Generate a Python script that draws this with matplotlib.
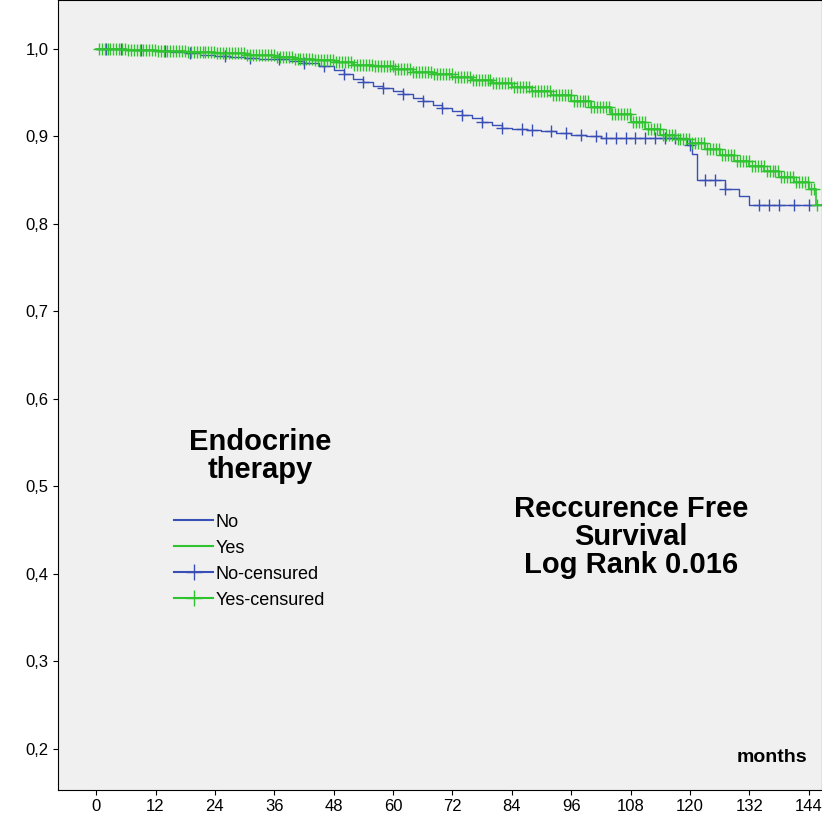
import numpy as np
import matplotlib.pyplot as plt
from matplotlib.lines import Line2D

plt.rcParams['font.family'] = ['Liberation Sans', 'DejaVu Sans']

# Kaplan-Meier steps (months, survival)
no_t = [0, 6, 12, 15, 18, 21, 24, 27, 30, 33, 36, 39, 42, 45, 48, 50, 52, 54, 56, 58, 60, 62, 64, 66, 68, 70, 72,
        74, 76, 78, 80, 82, 84, 87, 90, 93, 96, 99, 102, 118, 119.5, 120.5, 121.5, 127, 130, 132, 147]
no_s = [1.0, 0.999, 0.998, 0.996, 0.995, 0.993, 0.992, 0.991, 0.990, 0.989, 0.988, 0.986, 0.984, 0.980, 0.976,
        0.971, 0.966, 0.962, 0.958, 0.955, 0.952, 0.948, 0.944, 0.940, 0.936, 0.933, 0.929, 0.925, 0.921,
        0.917, 0.913, 0.910, 0.908, 0.907, 0.906, 0.904, 0.902, 0.900, 0.898, 0.898, 0.890, 0.880, 0.850,
        0.840, 0.832, 0.822, 0.822]
yes_t = [0, 6, 12, 18, 24, 30, 36, 40, 44, 48, 52, 56, 60, 64, 68, 72, 76, 80, 84, 88, 92, 96, 100, 104, 108,
         111, 114, 117, 120, 123, 126, 129, 132, 135, 138, 141, 144, 145.5, 147]
yes_s = [1.0, 0.999, 0.998, 0.997, 0.995, 0.993, 0.991, 0.989, 0.987, 0.985, 0.982, 0.980, 0.977, 0.974,
         0.971, 0.968, 0.965, 0.961, 0.957, 0.952, 0.947, 0.941, 0.934, 0.926, 0.916, 0.908, 0.902, 0.897,
         0.892, 0.886, 0.879, 0.872, 0.866, 0.860, 0.854, 0.848, 0.840, 0.822, 0.822]

no_cens = [2, 5, 9, 14, 19, 26, 31, 37, 42, 46, 50, 54, 58, 62, 66, 70, 74, 78, 82, 86, 88, 92, 95, 98, 101,
           103, 105, 107, 109, 111, 113, 115, 117, 120, 123, 125, 127, 134, 136, 138, 141, 144]
yes_cens = list(np.arange(0.5, 146, 0.6))

def step_val(t, s, x):
    i = np.searchsorted(t, x, side='right') - 1
    return np.array(s)[i]

blue = '#3a4fb5'
green = '#2fc42f'
fig = plt.figure(figsize=(8.22, 8.26), dpi=100)
ax = fig.add_axes([0.0706, 0.044, 0.93, 0.956])
ax.set_facecolor('#f0f0f0')

ax.step(no_t, no_s, where='post', color=blue, lw=1)
ax.step(yes_t, yes_s, where='post', color=green, lw=1.2)
ax.plot(no_cens, step_val(no_t, no_s, no_cens), '+', color=blue, ms=8, mew=1)
ax.plot(yes_cens, step_val(yes_t, yes_s, yes_cens), '+', color=green, ms=8, mew=1)

ax.set_xlim(-7.7, 146.8)
ax.set_ylim(0.153, 1.056)
ax.set_xticks(range(0, 145, 12))
ax.set_yticks(np.arange(0.2, 1.01, 0.1))
ax.set_yticklabels([f'{v:.1f}'.replace('.', ',') for v in np.arange(0.2, 1.01, 0.1)])
ax.tick_params(labelsize=12)

ax.text(0.265, 0.395, 'Endocrine\ntherapy', transform=ax.transAxes, ha='center',
        fontsize=21, fontweight='bold', linespacing=1.0)
handles = [Line2D([], [], color=blue, drawstyle='steps-post'),
           Line2D([], [], color=green, drawstyle='steps-post'),
           Line2D([], [], color=blue, marker='+', ls='-', ms=12),
           Line2D([], [], color=green, marker='+', ls='-', ms=12)]
ax.legend(handles, ['No', 'Yes', 'No-censured', 'Yes-censured'], loc='upper left',
          bbox_to_anchor=(0.13, 0.37), frameon=False, fontsize=13, handlelength=2.2,
          handletextpad=0.1, labelspacing=0.5)
ax.text(0.75, 0.275, 'Reccurence Free\nSurvival\nLog Rank 0.016', transform=ax.transAxes,
        ha='center', fontsize=21, fontweight='bold', linespacing=1.0)
ax.text(0.98, 0.035, 'months', transform=ax.transAxes, ha='right', fontsize=14, fontweight='bold')

fig.savefig('out.png')
